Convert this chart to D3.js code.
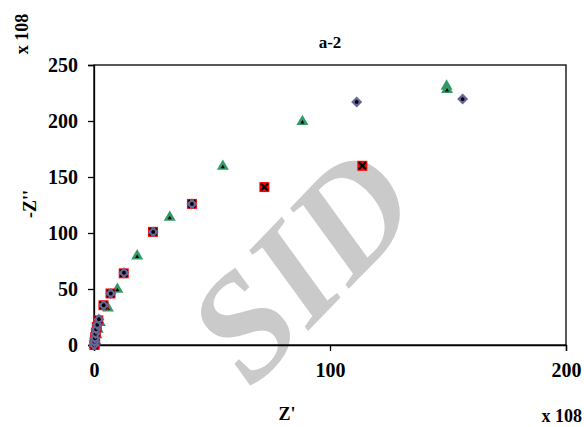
<!DOCTYPE html>
<html>
<head>
<meta charset="utf-8">
<script src="https://cdn.jsdelivr.net/npm/d3@7"></script>
<style>
  html, body { margin: 0; padding: 0; background: #fff; }
  svg { display: block; }
  svg text { font-family: "Liberation Serif"; font-weight: bold; fill: #000; }
</style>
</head>
<body>
<script>
// Impedance data, Z' and -Z'' (both in units of 10^8)
const squareZre = [0.2, 0.3, 0.5, 0.8, 1.2, 1.8, 4.0, 7.0, 12.6, 25.0, 41.5, 72.2, 113.7];
const squareZim = [0, 3, 7, 11, 16, 22, 35.5, 46, 64, 101, 126, 141, 160];

const diamondZre = [0.1, 0.2, 0.4, 0.6, 0.9, 1.4, 2.1, 4.1, 7.1, 12.7, 25.1, 41.5, 111.3, 156.2];
const diamondZim = [0, 3, 6, 10, 14, 18, 23, 35.5, 46, 64.5, 101, 126, 217, 219.6];

const triangleZre = [0.2, 0.5, 1.0, 1.6, 2.5, 5.9, 9.9, 18.3, 32.1, 54.6, 88.3, 149.4, 149.6];
const triangleZim = [0, 4, 9, 14, 20, 33, 49.7, 79.5, 114, 159.5, 199.5, 231, 228];

const xTicks = [0, 100, 200];
const yTicks = [0, 50, 100, 150, 200, 250];

const W = 584, H = 427;
const plot = { left: 94, right: 566, top: 65, bottom: 345 };
const serif = '"Liberation Serif", "Times New Roman", Times, serif';

const svg = d3.select("body").append("svg").attr("width", W).attr("height", H);

const x = d3.scaleLinear().domain([0, 200]).range([plot.left, plot.right]);
const y = d3.scaleLinear().domain([0, 250]).range([plot.bottom, plot.top]);

// faint watermark lettering behind the plot
svg.append("text")
  .attr("transform", "translate(338,300) rotate(-46)")
  .attr("text-anchor", "middle")
  .style("font-family", serif)
  .style("font-size", "150px")
  .style("font-weight", "bold")
  .style("font-style", "italic")
  .style("fill", "#cacaca")
  .text("SID");

// frame
svg.append("rect")
  .attr("x", plot.left).attr("y", plot.top)
  .attr("width", plot.right - plot.left).attr("height", plot.bottom - plot.top)
  .attr("fill", "none").attr("stroke", "#000").attr("stroke-width", 1.3);

// axes
const xAxis = d3.axisBottom(x).tickValues(xTicks).tickSize(6).tickPadding(12).tickFormat(d3.format("d"));
const yAxis = d3.axisLeft(y).tickValues(yTicks).tickSize(6).tickPadding(10).tickFormat(d3.format("d"));

const gx = svg.append("g").attr("transform", `translate(0,${plot.bottom})`).call(xAxis);
const gy = svg.append("g").attr("transform", `translate(${plot.left},0)`).call(yAxis);
[gx, gy].forEach(g => {
  g.attr("font-family", serif).attr("font-size", 20);
  g.select(".domain").attr("stroke", "#000").attr("stroke-width", 1.3);
  g.selectAll(".tick line").attr("stroke", "#000").attr("stroke-width", 1.3);
  g.selectAll(".tick text")
    .style("font-family", serif)
    .style("font-weight", "bold")
    .style("font-size", "20px")
    .attr("fill", "#000");
});

// titles
const label = (sel) => sel.style("font-family", serif).style("font-weight", "bold");
label(svg.append("text")).attr("x", 330).attr("y", 48).attr("text-anchor", "middle")
  .style("font-size", "17px").text("a-2");
label(svg.append("text")).attr("x", 287).attr("y", 420).attr("text-anchor", "middle")
  .style("font-size", "18px").text("Z'");
label(svg.append("text")).attr("x", 582).attr("y", 422).attr("text-anchor", "end")
  .style("font-size", "18px").text("x 108");
label(svg.append("text")).attr("transform", "translate(36,204) rotate(-90)").attr("text-anchor", "middle")
  .style("font-size", "18px").text("-Z''");
label(svg.append("text")).attr("transform", "translate(28,34) rotate(-90)").attr("text-anchor", "middle")
  .style("font-size", "18px").text("x 108");

// series: triangles (drawn first), squares, diamonds on top
const tri = triangleZre.map((v, i) => [v, triangleZim[i]]);
const sq = squareZre.map((v, i) => [v, squareZim[i]]);
const dia = diamondZre.map((v, i) => [v, diamondZim[i]]);

const gTri = svg.append("g").selectAll("g").data(tri).join("g")
  .attr("transform", d => `translate(${x(d[0])},${y(d[1])})`);
gTri.append("path").attr("d", d3.symbol(d3.symbolTriangle, 62)()).attr("fill", "#339966");
gTri.append("path").attr("d", d3.symbol(d3.symbolTriangle, 7)()).attr("fill", "#000").attr("transform", "translate(0,0.8)");

const gSq = svg.append("g").selectAll("g").data(sq).join("g")
  .attr("transform", d => `translate(${x(d[0])},${y(d[1])})`);
gSq.append("rect").attr("x", -5).attr("y", -5).attr("width", 10).attr("height", 10).attr("fill", "#ff0000");
gSq.append("path").attr("d", "M-3.5,-3.5L3.5,3.5M-3.5,3.5L3.5,-3.5").attr("stroke", "#000").attr("stroke-width", 2.2);

const gDia = svg.append("g").selectAll("g").data(dia).join("g")
  .attr("transform", d => `translate(${x(d[0])},${y(d[1])})`);
gDia.append("path").attr("d", "M0,-5.5L5.5,0L0,5.5L-5.5,0Z").attr("fill", "#666699");
gDia.append("circle").attr("r", 1.9).attr("fill", "#000");
</script>
</body>
</html>
